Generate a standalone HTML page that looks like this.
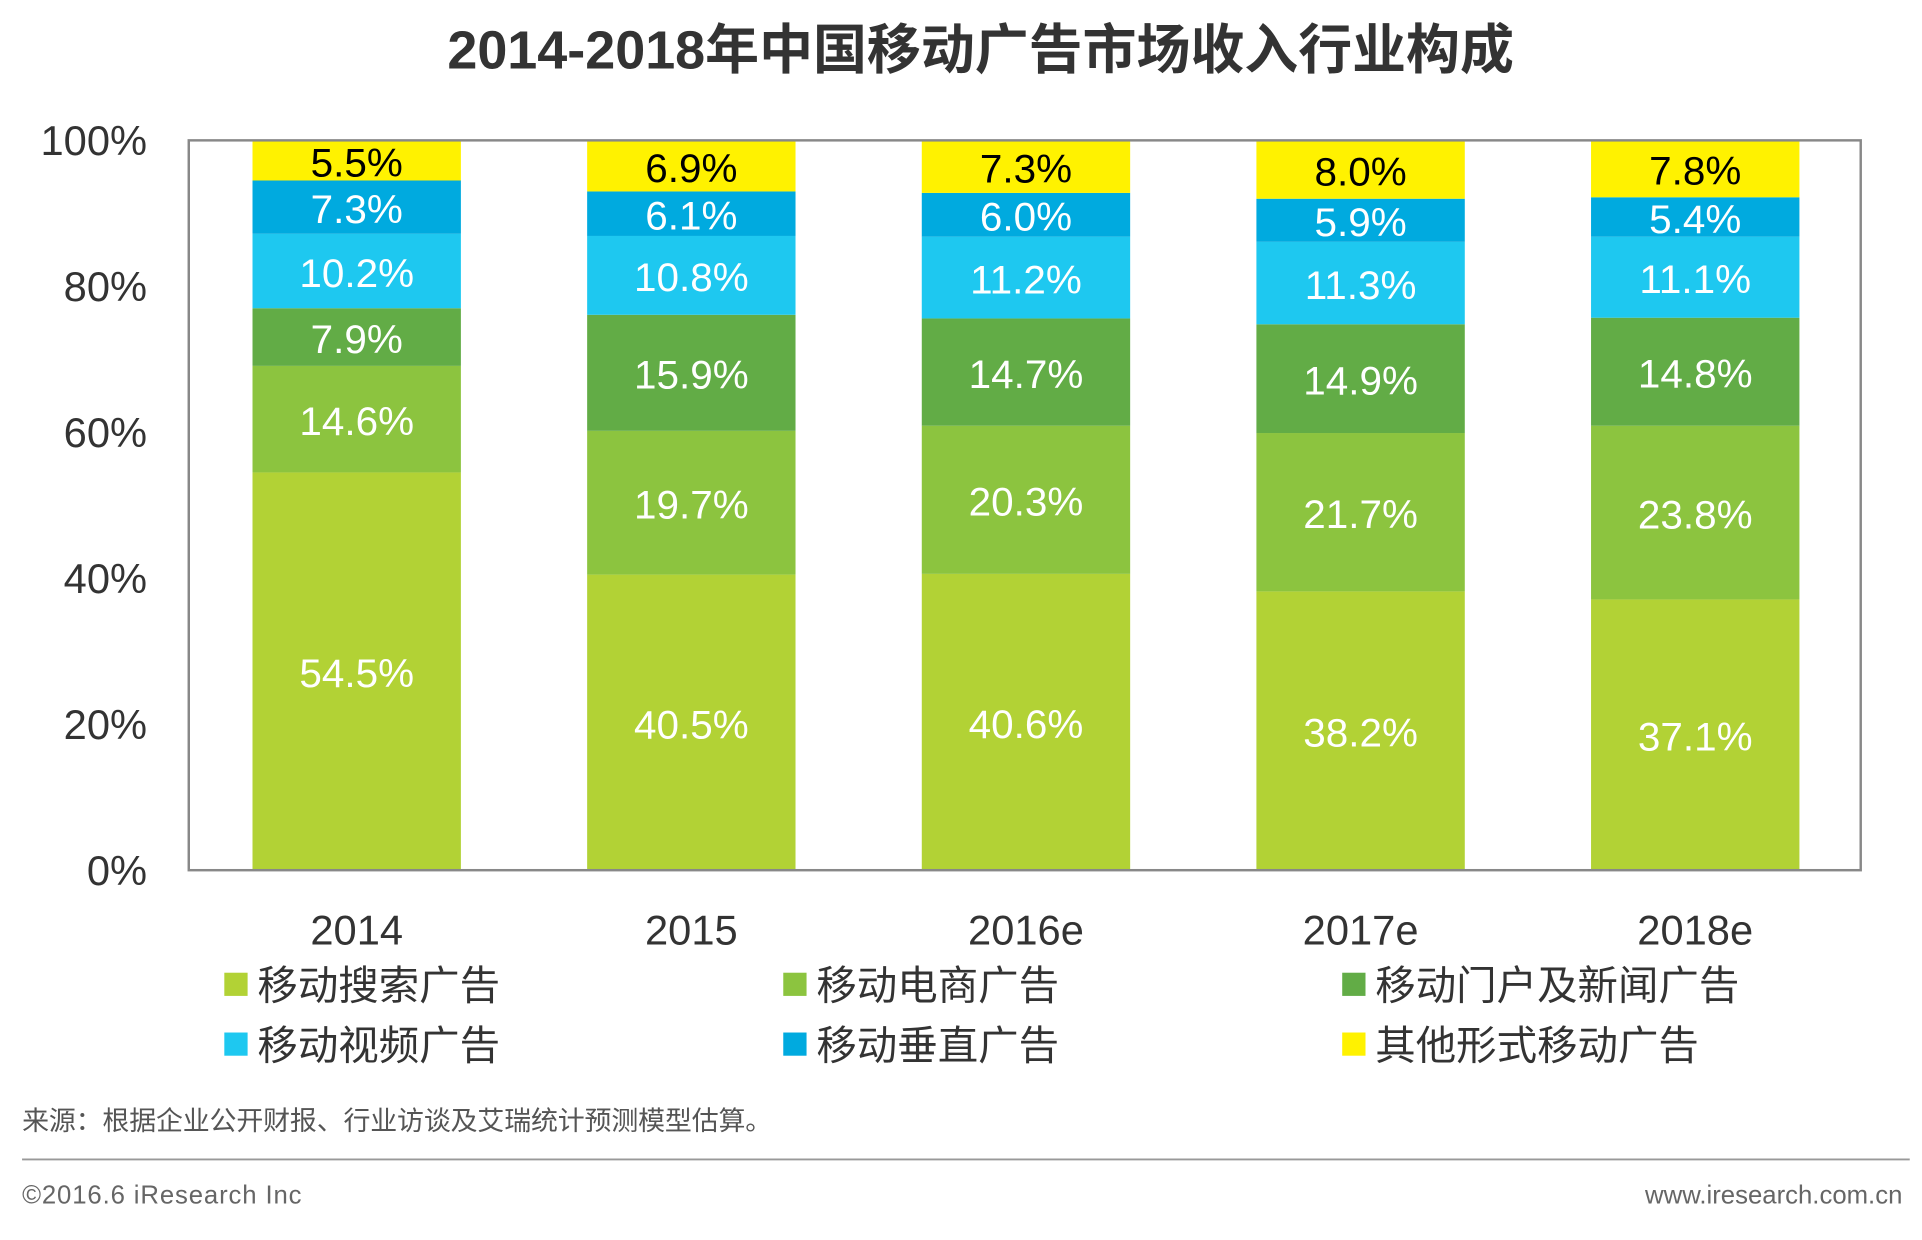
<!DOCTYPE html>
<html><head><meta charset="utf-8"><style>
html,body{margin:0;padding:0;background:#fff;}
svg{display:block;font-family:"Liberation Sans","Noto Sans CJK SC",sans-serif;}
</style></head><body>
<svg id="chart" width="1922" height="1240" viewBox="0 0 1568 1016" preserveAspectRatio="none">
<text x="800" y="56" text-anchor="middle" font-size="44" font-weight="bold" fill="#333">2014-2018年中国移动广告市场收入行业构成</text>
<g id="plot"></g>
<rect x="154" y="115" width="1364" height="598" fill="none" stroke="#888" stroke-width="2"/>
<text x="18" y="926" font-size="22" fill="#555" textLength="612">来源：根据企业公开财报、行业访谈及艾瑞统计预测模型估算。</text>
<line x1="18" y1="950" x2="1558" y2="950" stroke="#999" stroke-width="1.5"/>
<text x="18" y="986" font-size="21" fill="#666" textLength="228">©2016.6 iResearch Inc</text>
<text x="1552" y="986" font-size="21" fill="#666" text-anchor="end">www.iresearch.com.cn</text>
</svg>
<script>
const categories = ["2014","2015","2016e","2017e","2018e"];
const seriesNames = ["移动搜索广告","移动电商广告","移动门户及新闻广告","移动视频广告","移动垂直广告","其他形式移动广告"];
const searchVals = [54.5,40.5,40.6,38.2,37.1];
const ecomVals = [14.6,19.7,20.3,21.7,23.8];
const portalVals = [7.9,15.9,14.7,14.9,14.8];
const videoVals = [10.2,10.8,11.2,11.3,11.1];
const verticalVals = [7.3,6.1,6.0,5.9,5.4];
const otherVals = [5.5,6.9,7.3,8.0,7.8];
const yTicks = [0,20,40,60,80,100];
const yTickLabels = ["0%","20%","40%","60%","80%","100%"];

const colors = ["#b2d235","#8cc43f","#62ac46","#1ec8f0","#00aadf","#fff200"];
const series = [searchVals,ecomVals,portalVals,videoVals,verticalVals,otherVals];
const NS="http://www.w3.org/2000/svg";
const plot=document.getElementById('plot');
const L=154,R=1518,T=115,B=713;
function y(v){return B-(B-T)*Math.min(v,100)/100;}
function xc(i){return L+137+i*273;}
const bw=170;
function mk(tag,attrs,txt){const e=document.createElementNS(NS,tag);for(const k in attrs)e.setAttribute(k,attrs[k]);if(txt!=null)e.textContent=txt;plot.appendChild(e);return e;}
yTicks.forEach((t,i)=>{
  const e=mk('text',{x:120,y:y(t)+12,'text-anchor':'end','font-size':34,fill:'#333'},yTickLabels[i]);
  
  
});
categories.forEach((c,i)=>{
  let cum=0;
  series.forEach((s,k)=>{
    const v=s[i];const y0=y(cum),y1=y(cum+v);cum+=v;
    const r=mk('rect',{x:xc(i)-bw/2,y:y1,width:bw,height:Math.max(0,y0-y1),fill:colors[k]});
    
    
    const t=mk('text',{x:xc(i),y:(y0+y1)/2+13,'text-anchor':'middle','font-size':33,fill:k===5?'#000':'#fff'},v.toFixed(1)+'%');
    
    
  });
  const xl=mk('text',{x:xc(i),y:774,'text-anchor':'middle','font-size':34,fill:'#333'},c);
  
  
});
seriesNames.forEach((n,k)=>{
  const col=k%3,row=Math.floor(k/3);
  const lx=[183,639,1095][col],ly=[806,855][row];
  const sq=mk('rect',{x:lx,y:ly-9,width:19,height:19,fill:colors[k]});
  
  
  const t=mk('text',{x:lx+27,y:ly+13,'font-size':33,fill:'#333'},n);
  
  
});
</script>
</body></html>
